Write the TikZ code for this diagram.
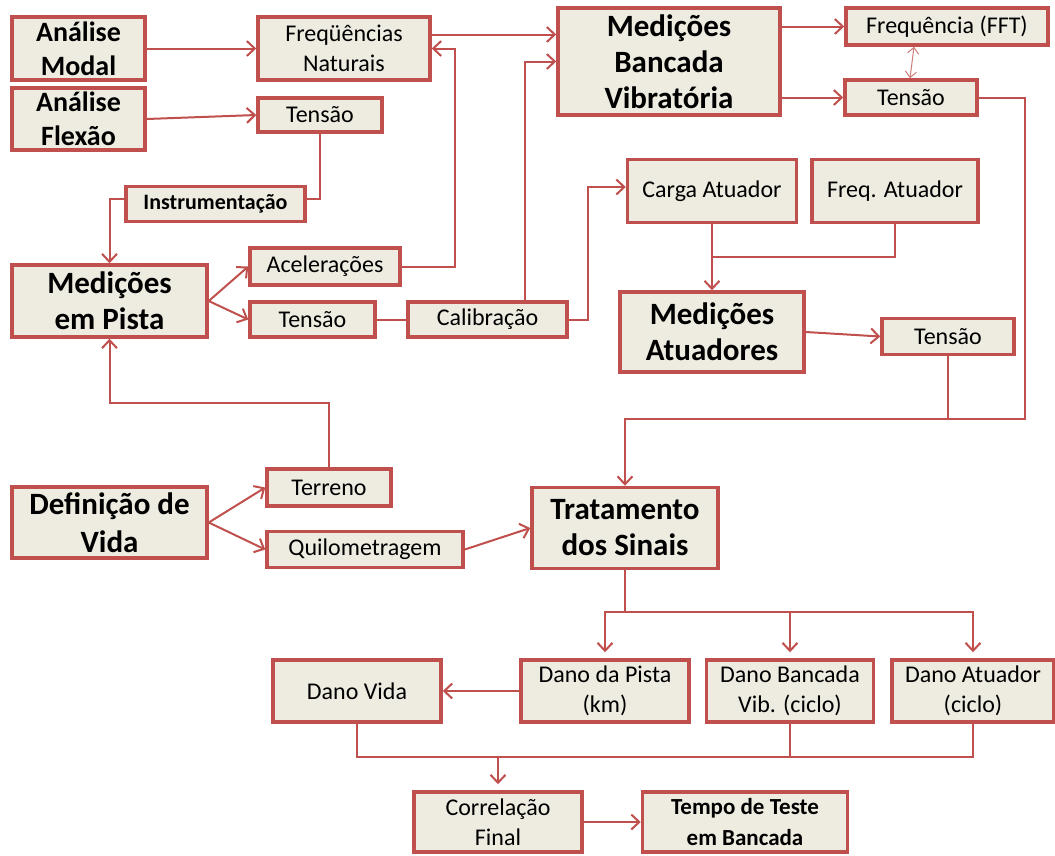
\documentclass[tikz,border=0pt]{standalone}
\usepackage{fontspec}
\setmainfont{Carlito}
\usetikzlibrary{arrows.meta,calc}
\definecolor{boxred}{HTML}{C0504D}
\definecolor{boxfill}{HTML}{EEECE1}

\tikzset{
  box/.style={draw=boxred, fill=boxfill, line width=3.5pt, align=center,
    inner sep=0pt, text=black, font=\fontsize{24}{30}\selectfont},
  big/.style={box, font=\fontsize{31}{36}\selectfont\bfseries},
  ana/.style={box, font=\fontsize{28}{34}\selectfont\bfseries},
  mid/.style={box, font=\fontsize{23}{31}\selectfont\bfseries},
  conn/.style={draw=boxred, line width=2pt},
  arr/.style={conn, -{Straight Barb[length=8pt,width=15pt,line width=2pt]}},
  gap/.style={shorten >=6pt},
}

\begin{document}
\begin{tikzpicture}[x=1pt,y=-1pt]
\useasboundingbox[fill=white] (0,0) rectangle (1055,855);

% --- boxes ---
\node[ana, minimum width=133pt, minimum height=63pt] (am) at (78.5,48.5) {Análise\\Modal};
\node[ana, minimum width=133pt, minimum height=62pt] (af) at (78.5,119) {Análise\\Flexão};
\node[box, minimum width=172pt, minimum height=63pt] (fn) at (344,48.5) {Freqüências\\Naturais};
\node[box, minimum width=124pt, minimum height=34pt] (t1) at (320,115) {Tensão};
\node[mid, font=\fontsize{22}{30}\selectfont\bfseries, minimum width=179pt, minimum height=35pt] (ins) at (215.5,204) {Instrumentação};
\node[big, minimum width=222pt, minimum height=107pt] (mbv) at (669,61.5) {Medições\\Bancada\\Vibratória};
\node[box, minimum width=202pt, minimum height=37pt] (fft) at (947,26.5) {Frequência (FFT)};
\node[box, minimum width=132pt, minimum height=35pt] (t2) at (911,97.5) {Tensão};
\node[box, minimum width=169pt, minimum height=63pt] (ca) at (712,191) {Carga Atuador};
\node[box, minimum width=166pt, minimum height=63pt] (fa) at (895,191) {Freq. Atuador};
\node[big, minimum width=195pt, minimum height=72pt] (mp) at (109.5,301) {Medições\\em Pista};
\node[box, minimum width=150pt, minimum height=37pt] (ac) at (325,266.5) {Acelerações};
\node[box, minimum width=125pt, minimum height=35pt] (t3) at (312.5,319.5) {Tensão};
\node[box, minimum width=159pt, minimum height=35pt] (cal) at (487.5,319.5) {Calibração};
\node[big, minimum width=184pt, minimum height=80pt] (ma) at (712,332) {Medições\\Atuadores};
\node[box, minimum width=132pt, minimum height=36pt] (t4) at (948,336.5) {Tensão};
\node[big, font=\fontsize{31}{38}\selectfont\bfseries, minimum width=195pt, minimum height=71pt] (dv) at (109.5,522.5) {Definição de\\Vida};
\node[box, minimum width=124pt, minimum height=37pt] (ter) at (329,487.5) {Terreno};
\node[box, minimum width=196pt, minimum height=36pt] (qui) at (365,549.5) {Quilometragem};
\node[big, minimum width=186pt, minimum height=81pt] (ts) at (625,528) {Tratamento\\dos Sinais};
\node[box, minimum width=168pt, minimum height=62pt] (dvida) at (357,691) {Dano Vida};
\node[box, minimum width=168pt, minimum height=62pt] (dp) at (605,691) {Dano da Pista\\(km)};
\node[box, minimum width=167pt, minimum height=62pt] (db) at (790,691) {Dano Bancada\\Vib. (ciclo)};
\node[box, minimum width=162pt, minimum height=62pt] (dat) at (973,691) {Dano Atuador\\(ciclo)};
\node[box, minimum width=168pt, minimum height=60pt] (cf) at (498,822) {Correlação\\Final};
\node[mid, minimum width=205pt, minimum height=60pt] (tt) at (745,822) {Tempo de Teste\\em Bancada};

% --- routing points ---
\coordinate (xac) at (455,0);
\coordinate (xca) at (588,0);
\coordinate (rt) at (1025,419);
\coordinate (lp) at (109.5,403);
\coordinate (h1) at (625,612);
\coordinate (h2) at (498,757);
\coordinate (fj) at (712,257);

% --- connectors ---
\draw[arr] (am.east) -- (fn.west);
\draw[arr] ([yshift=14pt]fn.east) -- ([yshift=14pt]fn.east -| mbv.west);
\draw[arr] (ac.east) -| (xac |- fn.east) -- (fn.east);
\draw[arr] ([xshift=37pt]cal.north) |- (mbv.west);
\draw[arr] (mbv.east |- fft.west) -- (fft.west);
\draw[arr] (mbv.east |- t2.west) -- (t2.west);
\draw[draw=boxred!75, line width=1pt,
  {Straight Barb[length=6pt,width=11pt,line width=1pt]}-{Straight Barb[length=6pt,width=11pt,line width=1pt]}]
  ([xshift=-33pt]fft.south) -- ([xshift=-1pt]t2.north);
\draw[arr] (af.east) -- (t1.west);
\draw[conn] (t1.south) |- ([yshift=5pt]ins.east);
\draw[arr] ([yshift=5pt]ins.west) -| (mp.north);
\draw[arr] (mp.east) -- (ac.west);
\draw[arr] (mp.east) -- (t3.west);
\draw[conn] (t3.east) -- (cal.west);
\draw[arr] (cal.east) -| ([yshift=4pt]xca |- ca.west) -- ([yshift=4pt]ca.west);
\draw[arr] (ca.south) -- (ma.north);
\draw[conn] (fa.south) |- (fj);
\draw[arr] (ma.east) -- (t4.west);
\draw[arr] (t2.east) -| (rt) -| (ts.north);
\draw[conn] (t4.south) -- (t4.south |- rt);
\draw[arr] (dv.east) -- (ter.west);
\draw[arr] (dv.east) -- (qui.west);
\draw[arr] (ter.north) |- (lp) -- (mp.south);
\draw[arr] (qui.east) -- (ts.west);
\draw[conn] (ts.south) -- (h1);
\draw[arr, gap] (h1) -| (dp.north);
\draw[arr, gap] (h1) -| (dat.north);
\draw[arr, gap] (db.north |- h1) -- (db.north);
\draw[arr] (dp.west) -- (dvida.east);
\draw[conn] (dvida.south) |- (dat.south |- h2) -- (dat.south);
\draw[conn] (db.south) -- (db.south |- h2);
\draw[arr, gap] (h2) -- (cf.north);
\draw[arr] (cf.east) -- (tt.west);
\end{tikzpicture}
\end{document}
